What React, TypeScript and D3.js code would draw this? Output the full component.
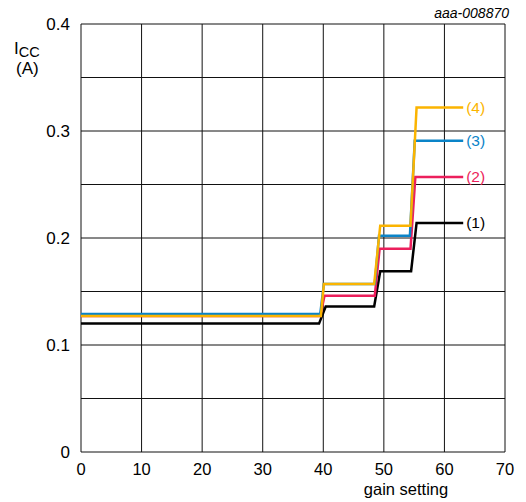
import React from "react";
import * as d3 from "d3";

const xTicks = [0, 10, 20, 30, 40, 50, 60, 70];
const yTicks = [0, 0.1, 0.2, 0.3, 0.4];
const yGrid = [0, 0.05, 0.1, 0.15, 0.2, 0.25, 0.3, 0.35, 0.4];

const series1: [number, number][] = [
  [0, 0.12], [39.3, 0.12], [40.4, 0.136], [48.4, 0.136], [49.4, 0.169],
  [54.5, 0.169], [55.4, 0.214], [63.1, 0.214],
];
const series2: [number, number][] = [
  [0, 0.127], [39.5, 0.127], [40.2, 0.146], [48.5, 0.146], [49.3, 0.19],
  [54.4, 0.19], [55.2, 0.257], [63.1, 0.257],
];
const series3: [number, number][] = [
  [0, 0.129], [39.5, 0.129], [40.1, 0.157], [48.5, 0.157], [49.2, 0.202],
  [54.3, 0.202], [55.1, 0.291], [63.1, 0.291],
];
const series4: [number, number][] = [
  [0, 0.127], [39.6, 0.127], [40.1, 0.157], [48.4, 0.157], [49.4, 0.2115],
  [54.4, 0.2115], [55.4, 0.322], [63.1, 0.322],
];
const seriesLabels = ["(1)", "(2)", "(3)", "(4)"];
const seriesColors = ["#000000", "#ec1f5c", "#0a84c8", "#fbb400"];
const allSeries = [series1, series2, series3, series4];

export default function App() {
  const W = 526, H = 502;
  const left = 81, right = 505, top = 24, bottom = 452;
  const x = d3.scaleLinear().domain([0, 70]).range([left, right]);
  const y = d3.scaleLinear().domain([0, 0.4]).range([bottom, top]);
  const line = d3.line<[number, number]>().x((d) => x(d[0])).y((d) => y(d[1]));
  const font = "Arial, 'Liberation Sans', sans-serif";

  return (
    <svg width={W} height={H} style={{ position: "absolute", left: 0, top: 0 }} fontFamily={font}>
      <rect x={0} y={0} width={W} height={H} fill="#fff" />
      {xTicks.map((t) => (
        <line key={"vx" + t} x1={x(t)} x2={x(t)} y1={top} y2={bottom} stroke="#111" strokeWidth={1} />
      ))}
      {yGrid.map((t) => (
        <line key={"hy" + t} x1={left} x2={right} y1={y(t)} y2={y(t)} stroke="#111" strokeWidth={1} />
      ))}
      {allSeries.map((s, i) => (
        <path key={"s" + i} d={line(s) || ""} fill="none" stroke={seriesColors[i]} strokeWidth={2.5} strokeLinejoin="miter" />
      ))}
      {allSeries.map((s, i) => {
        const last = s[s.length - 1];
        return (
          <text key={"l" + i} x={x(last[0]) + 3} y={y(last[1])} dy="0.35em" fontSize={15.5} fill={seriesColors[i]}>
            {seriesLabels[i]}
          </text>
        );
      })}
      {yTicks.map((t) => (
        <text key={"yt" + t} x={70} y={y(t)} dy="0.35em" textAnchor="end" fontSize={17} fill="#000">
          {t === 0 ? "0" : d3.format(".1f")(t)}
        </text>
      ))}
      {xTicks.map((t) => (
        <text key={"xt" + t} x={x(t)} y={475} textAnchor="middle" fontSize={16.5} fill="#000">
          {t}
        </text>
      ))}
      <text x={406} y={495} textAnchor="middle" fontSize={16.5} fill="#000">gain setting</text>
      <text x={14} y={54} fontSize={17} fill="#000">
        I<tspan fontSize={14.5} dy={3}>CC</tspan>
      </text>
      <text x={16} y={74} fontSize={17} fill="#000">(A)</text>
      <text x={509} y={18} textAnchor="end" fontSize={14} fontStyle="italic" fill="#000">aaa-008870</text>
    </svg>
  );
}
